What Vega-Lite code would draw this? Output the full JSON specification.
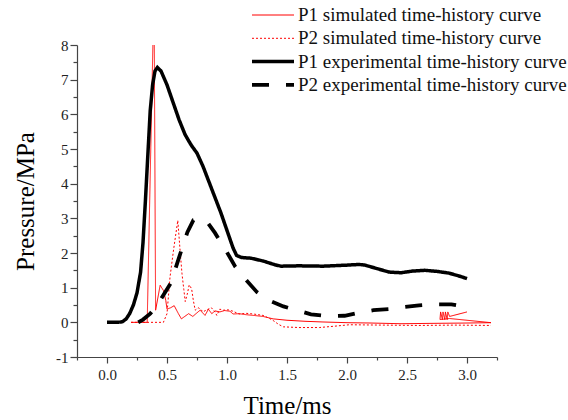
{
  "$schema": "https://vega.github.io/schema/vega-lite/v6.json",
  "width": 420,
  "height": 312,
  "autosize": {"type": "none"},
  "padding": {"left": 77, "top": 45, "right": 71, "bottom": 63},
  "background": "white",
  "config": {"view": {"stroke": null}, "font": "Liberation Serif"},
  "data": {
    "values": [
      {"s": "P1s", "t": 0.2, "p": 0},
      {"s": "P1s", "t": 0.335, "p": 0},
      {"s": "P1s", "t": 0.392, "p": 9.6},
      {"s": "P1s", "t": 0.405, "p": 0.35},
      {"s": "P1s", "t": 0.443, "p": 1.07},
      {"s": "P1s", "t": 0.47, "p": 0.92},
      {"s": "P1s", "t": 0.49, "p": 0.63},
      {"s": "P1s", "t": 0.5, "p": 0.38},
      {"s": "P1s", "t": 0.53, "p": 0.42},
      {"s": "P1s", "t": 0.56, "p": 0.48},
      {"s": "P1s", "t": 0.595, "p": 0.25},
      {"s": "P1s", "t": 0.62, "p": 0.1},
      {"s": "P1s", "t": 0.68, "p": 0.25},
      {"s": "P1s", "t": 0.715, "p": 0.17},
      {"s": "P1s", "t": 0.745, "p": 0.26},
      {"s": "P1s", "t": 0.776, "p": 0.35},
      {"s": "P1s", "t": 0.817, "p": 0.2},
      {"s": "P1s", "t": 0.845, "p": 0.38},
      {"s": "P1s", "t": 0.873, "p": 0.25},
      {"s": "P1s", "t": 0.9, "p": 0.33},
      {"s": "P1s", "t": 0.94, "p": 0.3},
      {"s": "P1s", "t": 0.98, "p": 0.34},
      {"s": "P1s", "t": 1.025, "p": 0.32},
      {"s": "P1s", "t": 1.05, "p": 0.24},
      {"s": "P1s", "t": 1.1, "p": 0.25},
      {"s": "P1s", "t": 1.16, "p": 0.22},
      {"s": "P1s", "t": 1.22, "p": 0.2},
      {"s": "P1s", "t": 1.3, "p": 0.17},
      {"s": "P1s", "t": 1.385, "p": 0.1},
      {"s": "P1s", "t": 1.5, "p": 0.06},
      {"s": "P1s", "t": 1.65, "p": 0.03},
      {"s": "P1s", "t": 1.8, "p": 0.01},
      {"s": "P1s", "t": 2.0, "p": -0.01},
      {"s": "P1s", "t": 2.2, "p": -0.02},
      {"s": "P1s", "t": 2.45, "p": -0.04},
      {"s": "P1s", "t": 2.7, "p": -0.03},
      {"s": "P1s", "t": 3.0, "p": -0.02},
      {"s": "P1s", "t": 3.2, "p": -0.01},
      {"s": "P1s", "t": 2.855, "p": 0.11},
      {"s": "P1s", "t": 2.775, "p": 0.08},
      {"s": "P1s", "t": 2.78, "p": 0.3},
      {"s": "P1s", "t": 2.795, "p": 0.08},
      {"s": "P1s", "t": 2.8, "p": 0.3},
      {"s": "P1s", "t": 2.815, "p": 0.08},
      {"s": "P1s", "t": 2.82, "p": 0.3},
      {"s": "P1s", "t": 2.835, "p": 0.08},
      {"s": "P1s", "t": 2.84, "p": 0.3},
      {"s": "P1s", "t": 2.855, "p": 0.17},
      {"s": "P1s", "t": 3.0, "p": 0.3},

      {"s": "P2s", "t": 0.2, "p": 0},
      {"s": "P2s", "t": 0.47, "p": 0},
      {"s": "P2s", "t": 0.5, "p": 0.25},
      {"s": "P2s", "t": 0.525, "p": 1.3},
      {"s": "P2s", "t": 0.555, "p": 2.1},
      {"s": "P2s", "t": 0.59, "p": 2.94},
      {"s": "P2s", "t": 0.61, "p": 2.03},
      {"s": "P2s", "t": 0.625, "p": 1.4},
      {"s": "P2s", "t": 0.64, "p": 0.95},
      {"s": "P2s", "t": 0.652, "p": 0.6},
      {"s": "P2s", "t": 0.668, "p": 0.8},
      {"s": "P2s", "t": 0.685, "p": 1.08},
      {"s": "P2s", "t": 0.705, "p": 0.97},
      {"s": "P2s", "t": 0.72, "p": 0.62},
      {"s": "P2s", "t": 0.735, "p": 0.35},
      {"s": "P2s", "t": 0.76, "p": 0.42},
      {"s": "P2s", "t": 0.78, "p": 0.38},
      {"s": "P2s", "t": 0.8, "p": 0.3},
      {"s": "P2s", "t": 0.83, "p": 0.36},
      {"s": "P2s", "t": 0.87, "p": 0.42},
      {"s": "P2s", "t": 0.9, "p": 0.3},
      {"s": "P2s", "t": 0.915, "p": 0.2},
      {"s": "P2s", "t": 0.94, "p": 0.38},
      {"s": "P2s", "t": 0.97, "p": 0.35},
      {"s": "P2s", "t": 1.01, "p": 0.36},
      {"s": "P2s", "t": 1.05, "p": 0.32},
      {"s": "P2s", "t": 1.1, "p": 0.24},
      {"s": "P2s", "t": 1.16, "p": 0.26},
      {"s": "P2s", "t": 1.22, "p": 0.24},
      {"s": "P2s", "t": 1.3, "p": 0.2},
      {"s": "P2s", "t": 1.35, "p": 0.12},
      {"s": "P2s", "t": 1.39, "p": 0.04},
      {"s": "P2s", "t": 1.43, "p": -0.06},
      {"s": "P2s", "t": 1.47, "p": -0.13},
      {"s": "P2s", "t": 1.6, "p": -0.15},
      {"s": "P2s", "t": 1.77, "p": -0.15},
      {"s": "P2s", "t": 1.9, "p": -0.11},
      {"s": "P2s", "t": 2.02, "p": -0.07},
      {"s": "P2s", "t": 2.3, "p": -0.08},
      {"s": "P2s", "t": 2.6, "p": -0.09},
      {"s": "P2s", "t": 2.9, "p": -0.08},
      {"s": "P2s", "t": 3.2, "p": -0.09},

      {"s": "P1e", "t": 0, "p": 0},
      {"s": "P1e", "t": 0.05, "p": 0},
      {"s": "P1e", "t": 0.1, "p": 0},
      {"s": "P1e", "t": 0.13, "p": 0.02},
      {"s": "P1e", "t": 0.16, "p": 0.1},
      {"s": "P1e", "t": 0.19, "p": 0.26},
      {"s": "P1e", "t": 0.22, "p": 0.5},
      {"s": "P1e", "t": 0.25, "p": 0.85},
      {"s": "P1e", "t": 0.28, "p": 1.45},
      {"s": "P1e", "t": 0.3, "p": 2.3},
      {"s": "P1e", "t": 0.32, "p": 3.5},
      {"s": "P1e", "t": 0.34, "p": 4.8},
      {"s": "P1e", "t": 0.36, "p": 6.1},
      {"s": "P1e", "t": 0.38, "p": 6.85},
      {"s": "P1e", "t": 0.4, "p": 7.25},
      {"s": "P1e", "t": 0.42, "p": 7.35},
      {"s": "P1e", "t": 0.45, "p": 7.25},
      {"s": "P1e", "t": 0.5, "p": 6.85},
      {"s": "P1e", "t": 0.55, "p": 6.35},
      {"s": "P1e", "t": 0.6, "p": 5.85},
      {"s": "P1e", "t": 0.65, "p": 5.42},
      {"s": "P1e", "t": 0.7, "p": 5.12},
      {"s": "P1e", "t": 0.75, "p": 4.88},
      {"s": "P1e", "t": 0.8, "p": 4.5},
      {"s": "P1e", "t": 0.85, "p": 4.05},
      {"s": "P1e", "t": 0.9, "p": 3.6},
      {"s": "P1e", "t": 0.95, "p": 3.15},
      {"s": "P1e", "t": 1.0, "p": 2.65},
      {"s": "P1e", "t": 1.05, "p": 2.15},
      {"s": "P1e", "t": 1.08, "p": 1.93},
      {"s": "P1e", "t": 1.12, "p": 1.87},
      {"s": "P1e", "t": 1.2, "p": 1.85},
      {"s": "P1e", "t": 1.3, "p": 1.77},
      {"s": "P1e", "t": 1.4, "p": 1.66},
      {"s": "P1e", "t": 1.45, "p": 1.62},
      {"s": "P1e", "t": 1.6, "p": 1.63},
      {"s": "P1e", "t": 1.8, "p": 1.62},
      {"s": "P1e", "t": 2.0, "p": 1.65},
      {"s": "P1e", "t": 2.1, "p": 1.67},
      {"s": "P1e", "t": 2.15, "p": 1.65},
      {"s": "P1e", "t": 2.25, "p": 1.55},
      {"s": "P1e", "t": 2.35, "p": 1.45},
      {"s": "P1e", "t": 2.45, "p": 1.43},
      {"s": "P1e", "t": 2.55, "p": 1.48},
      {"s": "P1e", "t": 2.65, "p": 1.5},
      {"s": "P1e", "t": 2.75, "p": 1.47},
      {"s": "P1e", "t": 2.85, "p": 1.42},
      {"s": "P1e", "t": 2.95, "p": 1.32},
      {"s": "P1e", "t": 3.0, "p": 1.26},

      {"s": "P2e", "t": 0.26, "p": 0},
      {"s": "P2e", "t": 0.3, "p": 0.08},
      {"s": "P2e", "t": 0.36, "p": 0.25},
      {"s": "P2e", "t": 0.42, "p": 0.5},
      {"s": "P2e", "t": 0.46, "p": 0.73},
      {"s": "P2e", "t": 0.53, "p": 1.12},
      {"s": "P2e", "t": 0.58, "p": 1.65},
      {"s": "P2e", "t": 0.62, "p": 2.08},
      {"s": "P2e", "t": 0.67, "p": 2.6},
      {"s": "P2e", "t": 0.72, "p": 2.95},
      {"s": "P2e", "t": 0.78, "p": 3.0},
      {"s": "P2e", "t": 0.84, "p": 2.87},
      {"s": "P2e", "t": 0.9, "p": 2.58},
      {"s": "P2e", "t": 0.95, "p": 2.3},
      {"s": "P2e", "t": 1.0, "p": 2.02},
      {"s": "P2e", "t": 1.07, "p": 1.6},
      {"s": "P2e", "t": 1.15, "p": 1.26},
      {"s": "P2e", "t": 1.25, "p": 0.87},
      {"s": "P2e", "t": 1.34, "p": 0.65},
      {"s": "P2e", "t": 1.47, "p": 0.46},
      {"s": "P2e", "t": 1.6, "p": 0.33},
      {"s": "P2e", "t": 1.7, "p": 0.23},
      {"s": "P2e", "t": 1.84, "p": 0.18},
      {"s": "P2e", "t": 1.98, "p": 0.19},
      {"s": "P2e", "t": 2.1, "p": 0.28},
      {"s": "P2e", "t": 2.22, "p": 0.35},
      {"s": "P2e", "t": 2.35, "p": 0.38},
      {"s": "P2e", "t": 2.47, "p": 0.44},
      {"s": "P2e", "t": 2.6, "p": 0.49},
      {"s": "P2e", "t": 2.73, "p": 0.52},
      {"s": "P2e", "t": 2.87, "p": 0.52},
      {"s": "P2e", "t": 3.0, "p": 0.44}
    ]
  },
  "mark": {"type": "line", "clip": true},
  "encoding": {
    "x": {
      "field": "t",
      "type": "quantitative",
      "scale": {"domain": [-0.25, 3.25], "nice": false, "zero": false},
      "axis": {
        "values": [-0.25, 0, 0.25, 0.5, 0.75, 1, 1.25, 1.5, 1.75, 2, 2.25, 2.5, 2.75, 3, 3.25],
        "labelExpr": "datum.value % 0.5 === 0 ? format(datum.value, '.1f') : ''",
        "labelOverlap": false,
        "labelFlush": false,
        "labelFont": "Liberation Serif",
        "labelFontSize": 15,
        "labelColor": "#222",
        "labelPadding": 4,
        "tickSize": {"condition": {"test": "datum.value % 0.5 === 0", "value": 6}, "value": 3},
        "tickColor": "#444",
        "tickWidth": 1.2,
        "domainColor": "#444",
        "domainWidth": 1.2,
        "grid": false,
        "title": "Time/ms",
        "titleFont": "Liberation Serif",
        "titleFontSize": 25,
        "titleFontWeight": "normal",
        "titleColor": "#000",
        "titleX": 210,
        "titleY": 56,
        "titleAlign": "center",
        "titleBaseline": "alphabetic"
      }
    },
    "y": {
      "field": "p",
      "type": "quantitative",
      "scale": {"domain": [-1, 8], "nice": false, "zero": false},
      "axis": {
        "values": [-1, -0.5, 0, 0.5, 1, 1.5, 2, 2.5, 3, 3.5, 4, 4.5, 5, 5.5, 6, 6.5, 7, 7.5, 8],
        "labelExpr": "datum.value % 1 === 0 ? '' + datum.value : ''",
        "labelOverlap": false,
        "labelFlush": false,
        "labelFont": "Liberation Serif",
        "labelFontSize": 15,
        "labelColor": "#222",
        "labelPadding": 2,
        "tickSize": {"condition": {"test": "datum.value % 1 === 0", "value": 7}, "value": 4},
        "tickColor": "#444",
        "tickWidth": 1.2,
        "domainColor": "#444",
        "domainWidth": 1.2,
        "grid": false,
        "title": "Pressure/MPa",
        "titleFont": "Liberation Serif",
        "titleFontSize": 25,
        "titleFontWeight": "normal",
        "titleColor": "#000",
        "titleAngle": 270,
        "titleX": -44,
        "titleY": 156,
        "titleAlign": "center",
        "titleBaseline": "alphabetic"
      }
    },
    "color": {
      "field": "s",
      "type": "ordinal",
      "scale": {"domain": ["P1s", "P2s", "P1e", "P2e"], "range": ["#ff0000", "#ff0000", "#000000", "#000000"]},
      "legend": {
        "title": null,
        "orient": "none",
        "legendX": 173,
        "legendY": -41,
        "padding": 0,
        "rowPadding": 1.3,
        "clipHeight": 22,
        "symbolType": "stroke",
        "symbolSize": 1764,
        "labelFont": "Liberation Serif",
        "labelFontSize": 19,
        "labelColor": "#111",
        "labelLimit": 400,
        "labelOffset": 2,
        "labelExpr": "{'P1s': 'P1 simulated time-history curve', 'P2s': 'P2 simulated time-history curve', 'P1e': 'P1 experimental time-history curve', 'P2e': 'P2 experimental time-history curve'}[datum.label]"
      }
    },
    "strokeDash": {
      "field": "s",
      "type": "ordinal",
      "scale": {"domain": ["P1s", "P2s", "P1e", "P2e"], "range": [[1, 0], [2, 2], [1, 0], [17, 17]]}
    },
    "strokeWidth": {
      "field": "s",
      "type": "ordinal",
      "scale": {"type": "ordinal", "domain": ["P1s", "P2s", "P1e", "P2e"], "range": [1, 1, 3.5, 3.8]}
    },
    "order": {"value": null}
  }
}
